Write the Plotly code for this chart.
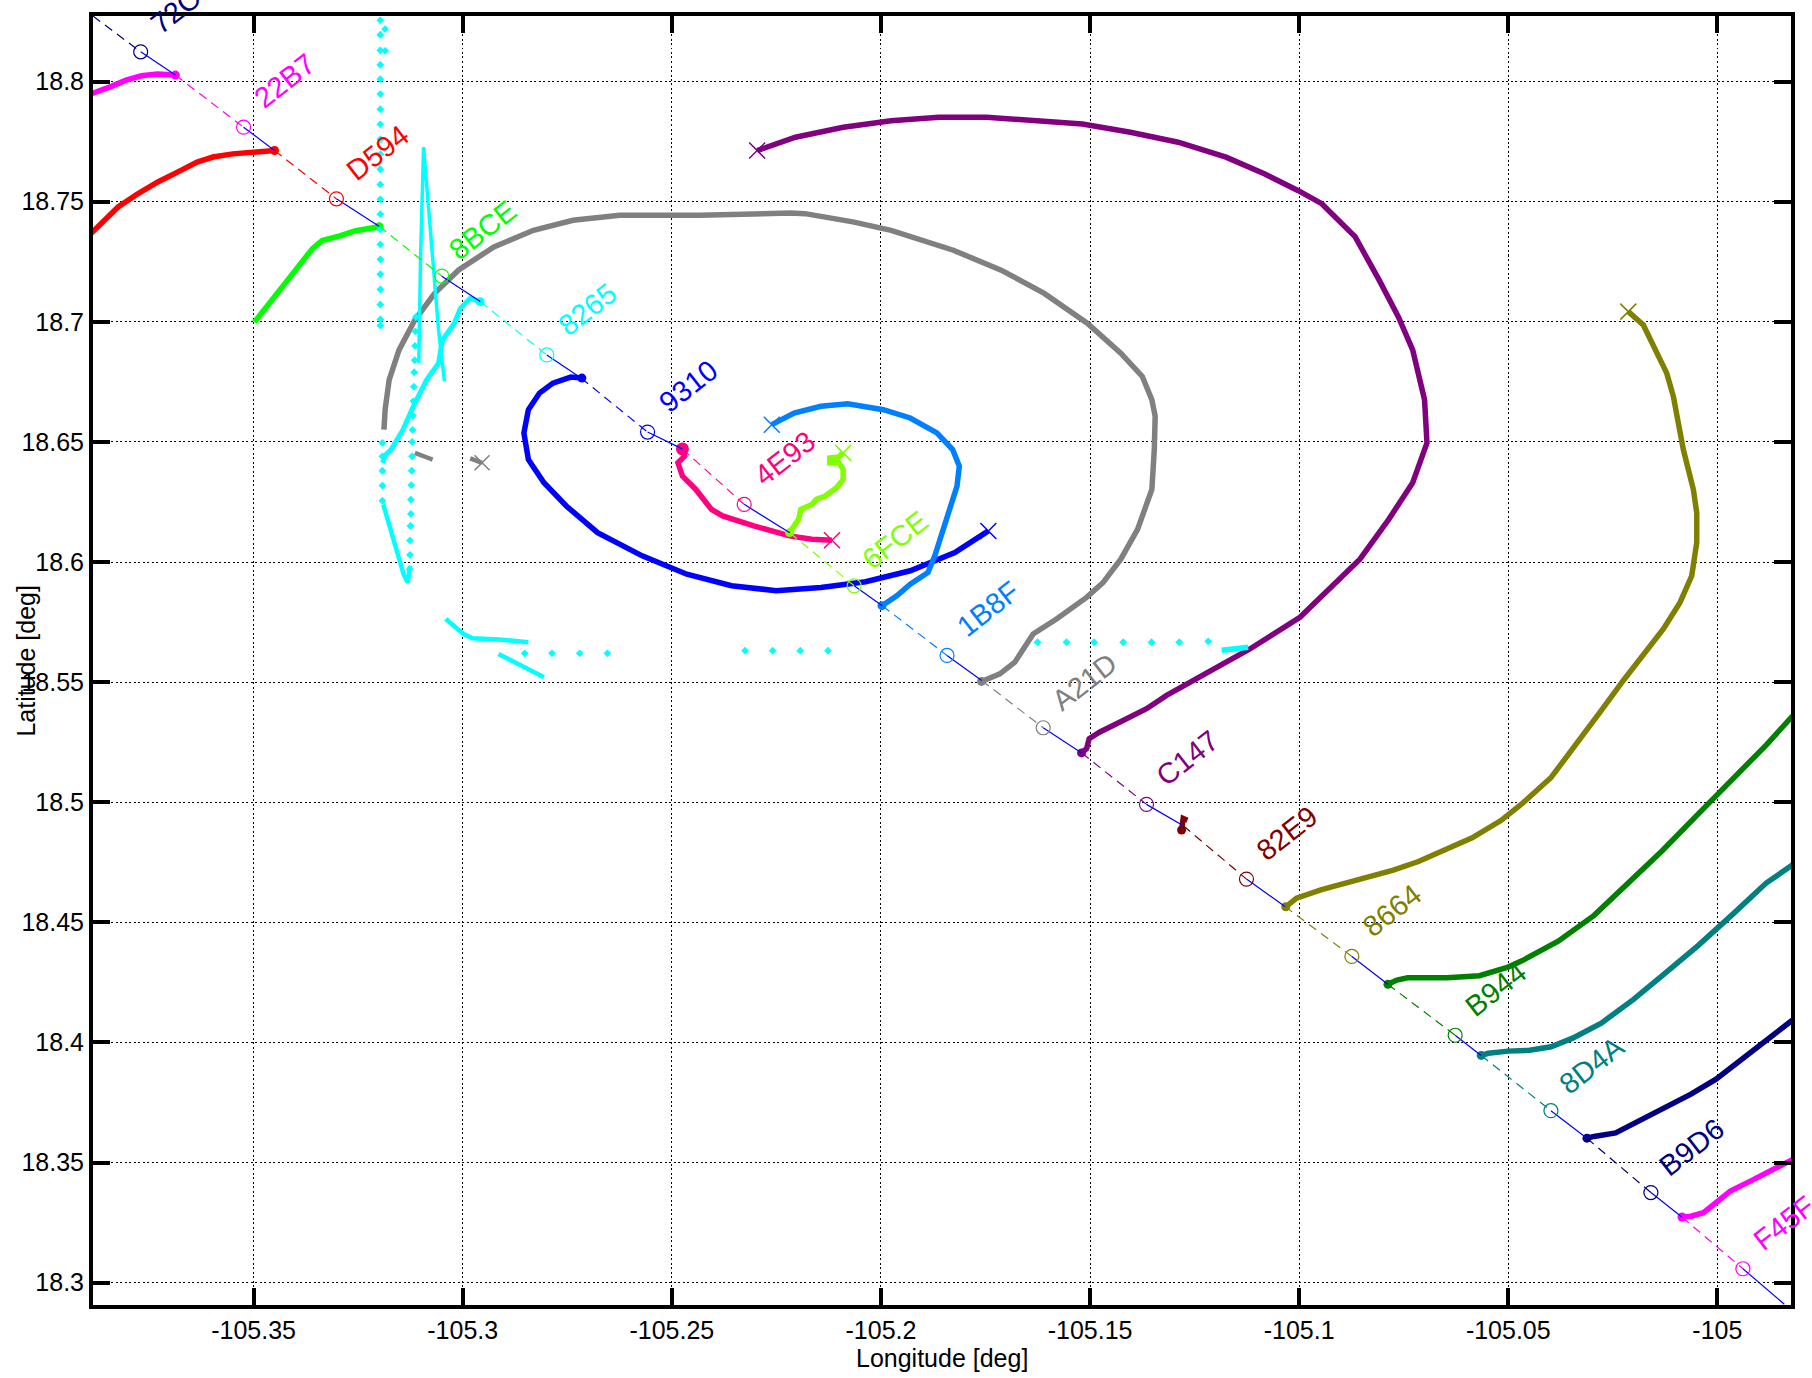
import plotly.graph_objects as go

# ---------------- axes ----------------
x_range = [-105.3884, -104.9824]
y_range = [18.2907, 18.8273]
x_tickvals = [-105.35, -105.30, -105.25, -105.20, -105.15, -105.10, -105.05, -105.00]
x_ticktext = ["-105.35", "-105.3", "-105.25", "-105.2", "-105.15", "-105.1", "-105.05", "-105"]
y_tickvals = [18.30, 18.35, 18.40, 18.45, 18.50, 18.55, 18.60, 18.65, 18.70, 18.75, 18.80]
y_ticktext = ["18.3", "18.35", "18.4", "18.45", "18.5", "18.55", "18.6", "18.65", "18.7", "18.75", "18.8"]

# ---------------- diagonal "index" line ----------------
ids = ["72C6", "22B7", "D594", "8BCE", "8265", "9310", "4E93", "6FCE", "1B8F",
       "A21D", "C147", "82E9", "8664", "B944", "8D4A", "B9D6", "F45F"]
id_colors = ["#000080", "#FF00FF", "#FF0000", "#00FF00", "#00FFFF", "#0000FF", "#FF0080",
             "#80FF00", "#0080FF", "#808080", "#800080", "#800000", "#808000", "#008000",
             "#008080", "#000080", "#FF00FF"]
# point where each track meets the diagonal
start_lon = [-105.3884, -105.3687, -105.3450, -105.3200, -105.2958, -105.2717, -105.2475,
             -105.2218, -105.1997, -105.1759, -105.1520, -105.1277, -105.1034, -105.0788,
             -105.0565, -105.0312, -105.0085]
start_lat = [18.8273, 18.8027, 18.7713, 18.7398, 18.7084, 18.6766, 18.6471, 18.6122,
             18.5818, 18.5507, 18.5205, 18.4902, 18.4566, 18.4242, 18.3946, 18.3601, 18.3273]
circle_lon = [-105.3770, -105.3524, -105.3302, -105.3050, -105.2799, -105.2558, -105.2327,
              -105.2064, -105.1842, -105.1612, -105.1365, -105.1126, -105.0874, -105.0627,
              -105.0398, -105.0159, -104.9939]
circle_lat = [18.8124, 18.7810, 18.7512, 18.7190, 18.6862, 18.6541, 18.6240, 18.5901,
              18.5611, 18.5310, 18.4991, 18.4680, 18.4358, 18.4030, 18.3716, 18.3375, 18.3058]
diag_end_lon = -104.9840
diag_end_lat = 18.2910

# ---------------- tracks ----------------
trk_22B7_lon = [-105.3687, -105.3730, -105.3768, -105.3805, -105.3843, -105.3880, -105.3916]
trk_22B7_lat = [18.8027, 18.8031, 18.8024, 18.8006, 18.7978, 18.7955, 18.7932]

trk_D594_lon = [-105.3450, -105.3502, -105.3550, -105.3597, -105.3635, -105.3682, -105.3729,
                -105.3777, -105.3824, -105.3881, -105.3904]
trk_D594_lat = [18.7713, 18.7706, 18.7699, 18.7686, 18.7665, 18.7623, 18.7582, 18.7533,
                18.7478, 18.7381, 18.7342]

trk_8BCE_lon = [-105.3200, -105.3256, -105.3294, -105.3336, -105.3360, -105.3388, -105.3426,
                -105.3464, -105.3498]
trk_8BCE_lat = [18.7396, 18.7379, 18.7358, 18.7338, 18.7303, 18.7241, 18.7165, 18.7075, 18.6999]

trk_8265_lon = [-105.29585, -105.29822, -105.30056, -105.30200, -105.30482, -105.30578,
                -105.30862, -105.31144, -105.31429, -105.31711, -105.31848, -105.31915]
trk_8265_lat = [18.70838, 18.70975, 18.70560, 18.69938, 18.69245, 18.68278, 18.67585,
                18.66618, 18.65510, 18.64680, 18.64460, 18.64129]
cyan_spike_lon = [-105.31051, -105.31006, -105.30936, -105.30826, -105.30719, -105.30578, -105.30436]
cyan_spike_lat = [18.68278, 18.72842, 18.77270, 18.74917, 18.72705, 18.69660, 18.67519]
cyan_v_lon = [-105.31900, -105.31747, -105.31580, -105.31412, -105.31314, -105.31259]
cyan_v_lat = [18.62398, 18.61432, 18.60394, 18.59481, 18.59149, 18.59842]
cyan_low1_lon = [-105.30405, -105.29980, -105.29764, -105.29126, -105.28430]
cyan_low1_lat = [18.57626, 18.57004, 18.56826, 18.56772, 18.56660]
cyan_low2_lon = [-105.29145, -105.28057]
cyan_low2_lat = [18.56174, 18.55207]
cyan_tip_lon = [-105.11854, -105.11536, -105.11218]
cyan_tip_lat = [18.56328, 18.56411, 18.56453]
cyan_dot_lon = ([-105.3197] * 22 + [-105.31855, -105.31855] + [-105.3192] * 5 +
                [-105.3112, -105.3113, -105.3114, -105.3115, -105.3116, -105.3117, -105.3118,
                 -105.3119, -105.3120, -105.3121, -105.3121, -105.3122, -105.3123, -105.3124,
                 -105.3124, -105.3125, -105.3126, -105.3126, -105.3127] +
                [-105.28518, -105.27865, -105.27203, -105.26540,
                 -105.23251, -105.22589, -105.21929, -105.21266,
                 -105.16255, -105.15562, -105.14902, -105.14208, -105.13529, -105.12869, -105.12175])
cyan_dot_lat = ([18.8255, 18.8195, 18.8130, 18.8070, 18.8010, 18.7948, 18.7885, 18.7822,
                 18.7760, 18.7698, 18.7635, 18.7572, 18.7510, 18.7448, 18.7385, 18.7322,
                 18.7260, 18.7198, 18.7135, 18.7072, 18.7010, 18.6985] +
                [18.8218, 18.8128] +
                [18.6496, 18.6440, 18.6380, 18.6318, 18.6255] +
                [18.7020, 18.6960, 18.6900, 18.6840, 18.6790, 18.6730, 18.6670, 18.6610,
                 18.6550, 18.6500, 18.6440, 18.6380, 18.6320, 18.6260, 18.6200, 18.6150,
                 18.6090, 18.6030, 18.5970] +
                [18.5620, 18.5620, 18.5620, 18.5620,
                 18.5631, 18.5631, 18.5631, 18.5631,
                 18.5666, 18.5666, 18.5666, 18.5666, 18.5666, 18.5666, 18.5670])

trk_9310_lon = [-105.2715, -105.27416, -105.27844, -105.28164, -105.2843, -105.28537, -105.2843,
                -105.28057, -105.27523, -105.26775, -105.25708, -105.24641, -105.23572,
                -105.22505, -105.21436, -105.20369, -105.193, -105.18233, -105.17432]
trk_9310_lat = [18.67656, 18.67697, 18.67448, 18.67033, 18.6634, 18.65373, 18.64265, 18.63299,
                18.62332, 18.61224, 18.60257, 18.59494, 18.59012, 18.58805, 18.58942,
                18.59178, 18.59635, 18.60394, 18.61294]

trk_4E93_lon = [-105.24746, -105.24694, -105.24854, -105.24746, -105.24426, -105.24053,
                -105.23785, -105.23039, -105.22185, -105.21651, -105.21171]
trk_4E93_lat = [18.64709, 18.64407, 18.64129, 18.63577, 18.63021, 18.62191, 18.61917,
                18.61502, 18.61087, 18.60946, 18.60905]

trk_6FCE_lon = [-105.22185, -105.2197, -105.21917, -105.21651, -105.21544, -105.21331,
                -105.21063, -105.20903, -105.20903, -105.21008, -105.21223, -105.21223,
                -105.21008, -105.20903]
trk_6FCE_lat = [18.61224, 18.61776, 18.62191, 18.62398, 18.62606, 18.62747, 18.63091,
                18.63436, 18.6385, 18.64129, 18.64129, 18.64336, 18.64377, 18.64543]

trk_1B8F_lon = [-105.19975, -105.19621, -105.193, -105.18875, -105.18712, -105.18554,
                -105.18341, -105.18181, -105.18126, -105.18286, -105.18662, -105.193,
                -105.19941, -105.20795, -105.21436, -105.22077, -105.2261]
trk_1B8F_lat = [18.58183, 18.58597, 18.59079, 18.59564, 18.60257, 18.61087, 18.62332,
                18.63162, 18.63992, 18.6468, 18.65373, 18.65996, 18.6634, 18.66589,
                18.66481, 18.66203, 18.65718]

trk_A21D_lon = [-105.17595, -105.17157, -105.16798, -105.16519, -105.16361, -105.15801,
                -105.15083, -105.14686, -105.14265, -105.13864, -105.13522, -105.13464,
                -105.13443, -105.13522, -105.13751, -105.14265, -105.15067, -105.16095,
                -105.17126, -105.18269, -105.19757, -105.20671, -105.21816, -105.22158,
                -105.24333, -105.26246, -105.27363, -105.28308, -105.29253, -105.30104,
                -105.30671, -105.31144, -105.31522, -105.31759, -105.31855, -105.31883]
trk_A21D_lat = [18.55029, 18.55344, 18.5583, 18.56523, 18.57004, 18.57626, 18.58527,
                18.59149, 18.60116, 18.61361, 18.63021, 18.6468, 18.66066, 18.66755,
                18.67726, 18.68693, 18.69938, 18.71183, 18.72149, 18.72979, 18.73809,
                18.74158, 18.74502, 18.74531, 18.74432, 18.74432, 18.74224, 18.73809,
                18.7312, 18.72149, 18.71183, 18.70075, 18.6883, 18.67585, 18.6634, 18.6551]
gray_bits_lon = [-105.31144, -105.30982, -105.30838, -105.30719, None,
                 -105.29822, -105.29642, -105.29537]
gray_bits_lat = [18.64543, 18.6446, 18.6434, 18.64266, None,
                 18.64315, 18.64211, 18.64129]

trk_C147_lon = [-105.15203, -105.15083, -105.15021, -105.14765, -105.14366, -105.13648,
                -105.1317, -105.12534, -105.11577, -105.11178, -105.09982, -105.09116,
                -105.08547, -105.07858, -105.07286, -105.06944, -105.07002, -105.07286,
                -105.0763, -105.08087, -105.08659, -105.0946, -105.10032, -105.10833,
                -105.11749, -105.12893, -105.14036, -105.15182, -105.16325, -105.17468,
                -105.18611, -105.19757, -105.209, -105.22044, -105.2296]
trk_C147_lat = [18.52054, 18.52232, 18.52647, 18.52925, 18.5327, 18.53892, 18.54448,
                18.5507, 18.55967, 18.56381, 18.57697, 18.59149, 18.60116, 18.61776,
                18.63299, 18.64958, 18.66755, 18.6883, 18.70216, 18.71734, 18.73535,
                18.74917, 18.75469, 18.76162, 18.76855, 18.77477, 18.77892, 18.78236,
                18.78402, 18.78515, 18.78515, 18.78373, 18.781, 18.77685, 18.77129]

trk_82E9_lon = [-105.12811, -105.12773, -105.12773, -105.12672]
trk_82E9_lat = [18.48846, 18.49108, 18.49327, 18.49253]

trk_8664_lon = [-105.10321, -105.10063, -105.09463, -105.08606, -105.07748, -105.07148,
                -105.06464, -105.05863, -105.05177, -105.04662, -105.03976, -105.03462,
                -105.02806, -105.02249, -105.01771, -105.01292, -105.00893, -105.00613,
                -105.00494, -105.00494, -105.00575, -105.00694, -105.00814, -105.00934,
                -105.01053, -105.01211, -105.0145, -105.01771, -105.0213]
trk_8664_lat = [18.45647, 18.46008, 18.46365, 18.4678, 18.47174, 18.47531, 18.4807,
                18.48519, 18.49236, 18.49954, 18.51029, 18.52195, 18.53755, 18.5507,
                18.56108, 18.57211, 18.5832, 18.59427, 18.60809, 18.62054, 18.63021,
                18.6385, 18.6468, 18.65788, 18.66896, 18.67863, 18.68693, 18.69867, 18.70423]

trk_B944_lon = [-105.07877, -105.07662, -105.07406, -105.06464, -105.05691, -105.05005,
                -105.04662, -105.03806, -105.02948, -105.02091, -105.01319, -105.00462,
                -104.99604, -104.98834, -104.98276, -104.97975]
trk_B944_lat = [18.42419, 18.42597, 18.42689, 18.42689, 18.4278, 18.43137, 18.43407,
                18.44216, 18.4529, 18.46726, 18.47979, 18.49506, 18.51029, 18.52378,
                18.53452, 18.54004]

trk_8D4A_lon = [-105.05648, -105.05476, -105.05005, -105.0449, -105.03976, -105.03462,
                -105.02775, -105.02005, -105.01319, -105.00462, -104.99604, -104.98834,
                -104.98233, -104.97932]
trk_8D4A_lat = [18.3946, 18.39547, 18.39639, 18.39676, 18.39817, 18.40178, 18.40805,
                18.41792, 18.4278, 18.44033, 18.45382, 18.46635, 18.47353, 18.47892]

trk_B9D6_lon = [-105.03119, -105.02948, -105.02433, -105.01919, -105.01319, -105.00632,
                -105.00032, -104.99348, -104.98661, -104.98233, -104.97932]
trk_B9D6_lat = [18.36016, 18.36087, 18.36232, 18.3668, 18.37215, 18.37846, 18.38473,
                18.39369, 18.40265, 18.40892, 18.41344]

trk_F45F_lon = [-105.00847, -105.00632, -105.00333, -105.00032, -104.9969, -104.99176,
                -104.98661, -104.98276, -104.97932]
trk_F45F_lat = [18.32734, 18.32767, 18.32912, 18.33361, 18.33809, 18.34257, 18.34705,
                18.35066, 18.35369]

# ---------------- figure ----------------
FONT = "Liberation Sans, Arial, sans-serif"
fig = go.Figure()


def add_line(lon, lat, color, width=5.5, dash="solid"):
    fig.add_trace(go.Scatter(x=lon, y=lat, mode="lines",
                             line=dict(color=color, width=width, dash=dash),
                             hoverinfo="skip", showlegend=False))


def add_marker(lon, lat, color, size, symbol, lw=1.2):
    fig.add_trace(go.Scatter(x=lon, y=lat, mode="markers",
                             marker=dict(color=color, size=size, symbol=symbol,
                                         line=dict(color=color, width=lw)),
                             hoverinfo="skip", showlegend=False))


tracks = [
    (trk_22B7_lon, trk_22B7_lat, "#FF00FF", False),
    (trk_D594_lon, trk_D594_lat, "#FF0000", False),
    (trk_8BCE_lon, trk_8BCE_lat, "#00FF00", False),
    (trk_A21D_lon, trk_A21D_lat, "#808080", False),
    (trk_C147_lon, trk_C147_lat, "#800080", True),
    (trk_9310_lon, trk_9310_lat, "#0000FF", True),
    (trk_1B8F_lon, trk_1B8F_lat, "#0080FF", True),
    (trk_4E93_lon, trk_4E93_lat, "#FF0080", True),
    (trk_6FCE_lon, trk_6FCE_lat, "#80FF00", True),
    (trk_82E9_lon, trk_82E9_lat, "#800000", False),
    (trk_8664_lon, trk_8664_lat, "#808000", True),
    (trk_B944_lon, trk_B944_lat, "#008000", False),
    (trk_8D4A_lon, trk_8D4A_lat, "#008080", False),
    (trk_B9D6_lon, trk_B9D6_lat, "#000080", False),
    (trk_F45F_lon, trk_F45F_lat, "#FF00FF", False),
]

# gray fragments
add_line(gray_bits_lon, gray_bits_lat, "#808080", width=4.5)
add_marker([gray_bits_lon[-1]], [gray_bits_lat[-1]], "#808080", 15, "x-thin-open", 1.5)

for lon, lat, col, has_x in tracks:
    add_line(lon, lat, col, width=5.5)
    add_marker([lon[0]], [lat[0]], col, 9, "circle", 0)
    if has_x:
        add_marker([lon[-1]], [lat[-1]], col, 16, "x-thin-open", 1.5)

# bigger blob at 4E93 start
add_marker([trk_4E93_lon[0]], [trk_4E93_lat[0]], "#FF0080", 13, "circle", 0)

# cyan 8265 (dot-drawn track)
CY = "#00FFFF"
add_line(trk_8265_lon, trk_8265_lat, CY, width=5)
add_line(cyan_spike_lon, cyan_spike_lat, CY, width=3.5)
add_line(cyan_v_lon, cyan_v_lat, CY, width=4.5)
add_line(cyan_low1_lon, cyan_low1_lat, CY, width=4.5)
add_line(cyan_low2_lon, cyan_low2_lat, CY, width=4.5)
add_line(cyan_tip_lon, cyan_tip_lat, CY, width=5.5)
add_marker(cyan_dot_lon, cyan_dot_lat, CY, 6, "diamond", 0)
add_marker([trk_8265_lon[0]], [trk_8265_lat[0]], CY, 9, "circle", 0)

# diagonal: colored dashed pieces and thin blue solid pieces
blue_x, blue_y = [], []
n = len(ids)
for i in range(n):
    add_line([start_lon[i], circle_lon[i]], [start_lat[i], circle_lat[i]], id_colors[i],
             width=1.2, dash="9px,6px")
    nx = start_lon[i + 1] if i + 1 < n else diag_end_lon
    ny = start_lat[i + 1] if i + 1 < n else diag_end_lat
    blue_x += [circle_lon[i], nx, None]
    blue_y += [circle_lat[i], ny, None]
add_line(blue_x, blue_y, "#0000FF", width=1.2)

for i in range(n):
    add_marker([circle_lon[i]], [circle_lat[i]], id_colors[i], 14, "circle-open", 1.2)
    fig.add_annotation(x=circle_lon[i], y=circle_lat[i], text=ids[i], showarrow=False,
                       xshift=41, yshift=46, textangle=-38,
                       font=dict(family=FONT, size=29, color=id_colors[i]),
                       xanchor="center", yanchor="middle")

# axis titles
fig.add_annotation(xref="paper", yref="paper", x=0.5, y=-0.041, text="Longitude [deg]",
                   showarrow=False, font=dict(family=FONT, size=25, color="black"),
                   xanchor="center", yanchor="middle")
fig.add_annotation(xref="paper", yref="paper", x=-0.04, y=0.5, text="Latitude [deg]",
                   showarrow=False, textangle=-90, font=dict(family=FONT, size=25, color="black"),
                   xanchor="center", yanchor="middle")

axis_common = dict(showline=True, linecolor="black", linewidth=4, mirror="ticks",
                   ticks="inside", ticklen=17, tickwidth=4, tickcolor="black",
                   showgrid=True, gridcolor="black", gridwidth=1, griddash="2px,2.5px",
                   zeroline=False, tickfont=dict(family=FONT, size=25, color="black"))

fig.update_layout(
    width=1812, height=1378,
    margin=dict(l=93, r=21, t=12, b=73),
    paper_bgcolor="white", plot_bgcolor="white",
    xaxis=dict(range=x_range, tickvals=x_tickvals, ticktext=x_ticktext, **axis_common),
    yaxis=dict(range=y_range, tickvals=y_tickvals, ticktext=y_ticktext, **axis_common),
    showlegend=False,
)

fig.write_html("out.html")
